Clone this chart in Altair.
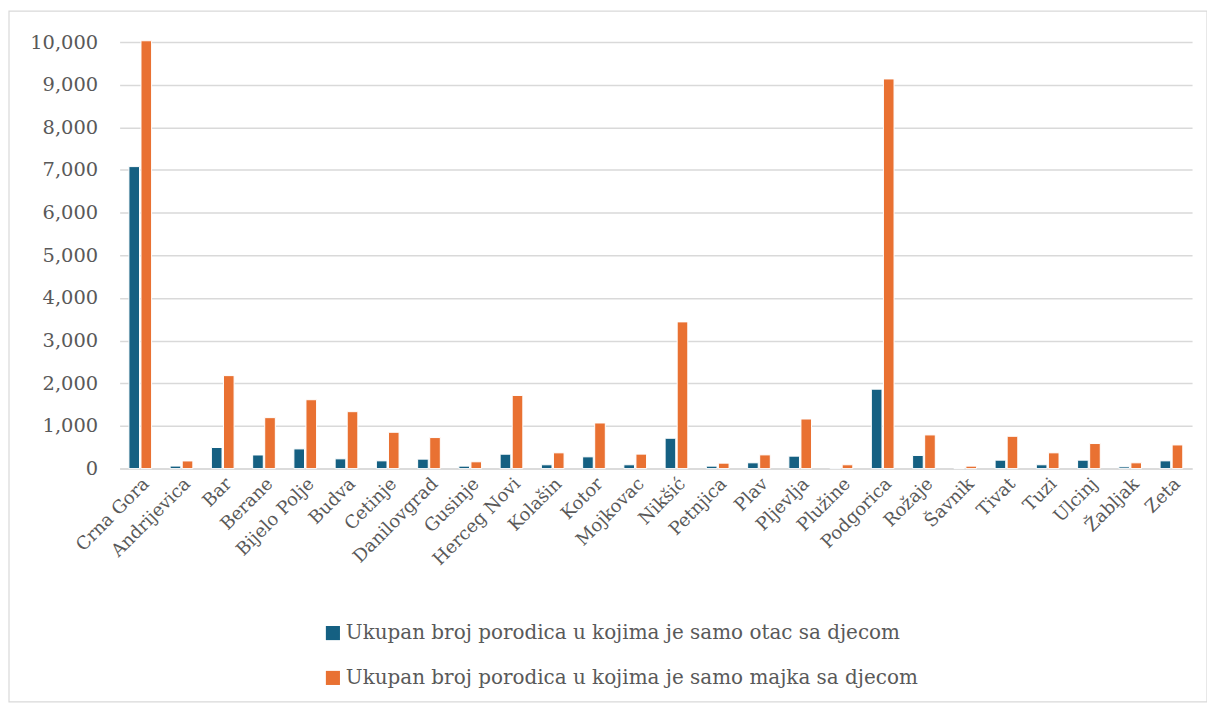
import altair as alt
import pandas as pd

categories = ["Crna Gora", "Andrijevica", "Bar", "Berane", "Bijelo Polje", "Budva", "Cetinje",
              "Danilovgrad", "Gusinje", "Herceg Novi", "Kolašin", "Kotor", "Mojkovac", "Nikšić",
              "Petnjica", "Plav", "Pljevlja", "Plužine", "Podgorica", "Rožaje", "Šavnik", "Tivat",
              "Tuzi", "Ulcinj", "Žabljak", "Zeta"]
otac = [7080, 60, 495, 320, 462, 229, 182, 222, 58, 338, 90, 276, 90, 712, 58, 136, 292, 15,
        1862, 308, 10, 198, 90, 198, 42, 182]
majka = [10030, 180, 2180, 1195, 1615, 1335, 852, 728, 160, 1715, 370, 1070, 340, 3440, 128,
         322, 1163, 90, 9135, 790, 58, 758, 370, 588, 136, 555]
series = ["Ukupan broj porodica u kojima je samo otac sa djecom",
          "Ukupan broj porodica u kojima je samo majka sa djecom"]
colors = ["#156082", "#E97132"]

rows = []
for c, a, b in zip(categories, otac, majka):
    rows.append({"grad": c, "serija": series[0], "vrijednost": a})
    rows.append({"grad": c, "serija": series[1], "vrijednost": b})
df = pd.DataFrame(rows)

FONT = "DejaVu Serif"
GRAY = "#595959"

bars = alt.Chart(df).mark_bar(stroke="white", strokeWidth=1).encode(
    x=alt.X("grad:N", sort=categories, title=None,
            scale=alt.Scale(paddingInner=0.45, paddingOuter=0.225),
            axis=alt.Axis(labelAngle=-45, labelAlign="right", labelBaseline="top",
                          labelFont=FONT, labelFontSize=18, labelColor=GRAY, ticks=False,
                          domainColor="#d9d9d9", domainWidth=1.5, labelPadding=6, grid=False)),
    xOffset=alt.XOffset("serija:N", sort=series, scale=alt.Scale(paddingInner=0.12)),
    y=alt.Y("vrijednost:Q", title=None,
            scale=alt.Scale(domain=[0, 10000], nice=False),
            axis=alt.Axis(values=list(range(0, 10001, 1000)), format=",.0f", labelFont=FONT,
                          labelFontSize=19.5, labelColor=GRAY, ticks=False, domain=False,
                          gridColor="#d9d9d9", gridWidth=1.5, labelPadding=22)),
    color=alt.Color("serija:N", sort=series, scale=alt.Scale(domain=series, range=colors),
                    legend=alt.Legend(title=None, orient="none", legendX=204, legendY=583,
                                      direction="vertical", symbolType="square", symbolSize=200,
                                      symbolStrokeWidth=0, labelFont=FONT, labelFontSize=20,
                                      labelColor=GRAY, rowPadding=25, labelLimit=800,
                                      labelOffset=3)),
)

border = alt.Chart(pd.DataFrame({"a": [0]})).mark_rect(
    fill=None, stroke="#d9d9d9", strokeWidth=1.2, clip=False
).encode(x=alt.value(-111), x2=alt.value(1091), y=alt.value(-31), y2=alt.value(662))

chart = alt.layer(border, bars).properties(
    width=1076, height=428,
    autosize=alt.AutoSizeParams(type="none"),
    padding={"left": 112, "top": 33, "right": 15, "bottom": 234},
).configure_view(stroke=None)

chart.save("out.html", embed_options={"renderer": "svg", "actions": False})
